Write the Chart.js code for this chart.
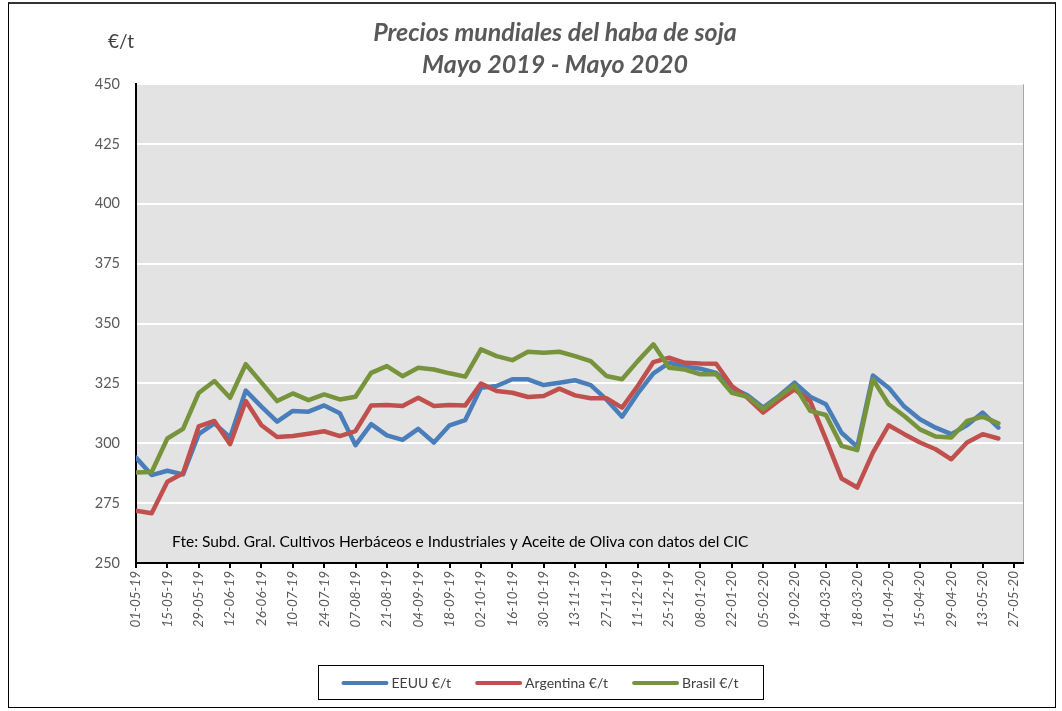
<!DOCTYPE html>
<html>
<head>
<meta charset="utf-8">
<script src="https://cdn.jsdelivr.net/npm/chart.js@4"></script>
<style>
body{margin:0;background:#fff;}
#marco{position:absolute;left:8px;top:2px;width:1046px;height:703px;border:1px solid #000;border-top:2px solid #333;}
#grafico{position:absolute;left:0;top:0;}
</style>
</head>
<body>
<div id="marco"></div>
<canvas id="grafico" width="1062" height="711"></canvas>
<script>
// semanas (miercoles) desde 01-05-19
var fechas = ["01-05-19","08-05-19","15-05-19","22-05-19","29-05-19","05-06-19","12-06-19","19-06-19","26-06-19",
  "03-07-19","10-07-19","17-07-19","24-07-19","31-07-19","07-08-19","14-08-19","21-08-19","28-08-19",
  "04-09-19","11-09-19","18-09-19","25-09-19","02-10-19","09-10-19","16-10-19","23-10-19","30-10-19",
  "06-11-19","13-11-19","20-11-19","27-11-19","04-12-19","11-12-19","18-12-19","25-12-19","01-01-20",
  "08-01-20","15-01-20","22-01-20","29-01-20","05-02-20","12-02-20","19-02-20","26-02-20","04-03-20",
  "11-03-20","18-03-20","25-03-20","01-04-20","08-04-20","15-04-20","22-04-20","29-04-20","06-05-20",
  "13-05-20","20-05-20","27-05-20"];

var eeuu = [294,286.7,288.5,287,303.8,308.3,302.4,322,315.3,309,313.5,313.2,315.8,312.5,299.2,308,303.3,301.4,
  306,300.3,307.5,309.7,323.2,323.9,326.7,326.7,324.3,325.3,326.3,324.3,318.3,311.1,320.8,329.2,333.6,332,
  331.1,329.4,323.2,320,314.9,319.7,325.3,319.4,316.3,304.4,298.5,328.3,323.2,315.3,310,306.5,303.8,307.5,
  312.8,306.5];
var argentina = [271.8,270.8,283.9,287.5,307,309.3,299.6,317.6,307.5,302.6,303,304,305,303,305.1,315.8,316,315.6,
  319,315.6,316,315.8,324.9,321.8,321.1,319.3,319.7,322.8,320,318.8,318.8,314.9,323.9,333.9,335.7,333.6,
  333.3,333.2,323.9,319,312.8,317.9,322.5,317.6,301.7,285.3,281.5,296.1,307.5,303.8,300.3,297.5,293.3,300.3,
  303.8,302];
var brasil = [287.8,288,302,306,321,326,319,333,325.3,317.6,320.8,318,320.4,318.3,319.4,329.4,332.2,328,
  331.5,330.8,329.2,327.8,339.2,336.4,334.7,338.2,337.8,338.2,336.4,334.3,328.1,326.7,334.3,341.3,331.5,330.8,
  328.8,328.8,321.1,319.4,314.2,319.3,324.2,313.5,311.8,298.9,297.1,326.7,316.3,311.4,305.8,302.8,302.4,309.3,
  311.1,308.3];

var yTicks = [250,275,300,325,350,375,400,425,450];
var titulo = ["Precios mundiales del haba de soja","Mayo 2019 - Mayo 2020"];
var nota = "Fte: Subd. Gral. Cultivos Herbáceos e Industriales y Aceite de Oliva con datos del CIC";

function puntos(serie){
  return serie.map(function(v,i){ return {x:i*7, y:v}; });
}

var fuente = "Lato, 'Liberation Sans', sans-serif";

var extras = {
  id:'extras',
  beforeDraw:function(chart){
    var a = chart.chartArea, ctx = chart.ctx;
    ctx.save();
    ctx.fillStyle = '#e3e3e3';
    ctx.fillRect(a.left, a.top, a.right-a.left, a.bottom-a.top);
    ctx.strokeStyle = '#a6a6a6';
    ctx.lineWidth = 1;
    ctx.beginPath();
    ctx.moveTo(a.left, a.top+0.5);
    ctx.lineTo(a.right+0.5, a.top+0.5);
    ctx.lineTo(a.right+0.5, a.bottom);
    ctx.stroke();
    ctx.restore();
  },
  afterDraw:function(chart){
    var ctx = chart.ctx;
    ctx.save();
    ctx.textAlign = 'center';
    ctx.textBaseline = 'middle';
    ctx.fillStyle = '#595959';
    ctx.font = 'italic bold 25px ' + fuente;
    ctx.fillText(titulo[0], 555, 33);
    ctx.fillText(titulo[1], 555, 65);
    ctx.font = '19px ' + fuente;
    ctx.fillStyle = '#404040';
    ctx.fillText('€/t', 121, 42);

    ctx.textAlign = 'left';
    ctx.fillStyle = '#000';
    ctx.font = '15.5px ' + fuente;
    ctx.fillText(nota, 172, 542);

    // leyenda
    ctx.font = '14px ' + fuente;
    var ds = chart.data.datasets;
    var largo = 43, sep = 5, entre = 26, total = 0;
    var anchos = ds.map(function(d){ return ctx.measureText(d.label).width; });
    anchos.forEach(function(w){ total += largo + sep + w; });
    total += entre*(ds.length-1);
    var cx = 541, y = 683;
    var x = cx - total/2;
    ctx.strokeStyle = '#000';
    ctx.lineWidth = 1;
    ctx.strokeRect(Math.round(x-25)+0.5, 665.5, Math.round(total+50), 34);
    ds.forEach(function(d,i){
      ctx.strokeStyle = d.borderColor;
      ctx.lineWidth = 4;
      ctx.lineCap = 'round';
      ctx.beginPath();
      ctx.moveTo(x, y);
      ctx.lineTo(x+largo, y);
      ctx.stroke();
      ctx.fillStyle = '#404040';
      ctx.fillText(d.label, x+largo+sep, y);
      x += largo + sep + anchos[i] + entre;
    });
    ctx.restore();
  }
};

new Chart(document.getElementById('grafico'), {
  type:'line',
  data:{
    datasets:[
      {label:'EEUU €/t', data:puntos(eeuu), borderColor:'#4a7ebb', backgroundColor:'#4a7ebb', order:3},
      {label:'Argentina €/t', data:puntos(argentina), borderColor:'#c0504d', backgroundColor:'#c0504d', order:2},
      {label:'Brasil €/t', data:puntos(brasil), borderColor:'#77933c', backgroundColor:'#77933c', order:1}
    ]
  },
  options:{
    responsive:false,
    animation:false,
    devicePixelRatio:1,
    layout:{padding:{left:90, right:39, top:84, bottom:68}},
    elements:{
      line:{borderWidth:4.5, tension:0, borderJoinStyle:'round', borderCapStyle:'round'},
      point:{radius:0, hoverRadius:0}
    },
    plugins:{legend:{display:false}, title:{display:false}, tooltip:{enabled:false}},
    scales:{
      x:{
        type:'linear', min:0, max:396,
        afterFit:function(s){ s.height = 80; },
        border:{display:true, color:'#000', width:2},
        grid:{display:true, drawOnChartArea:false, drawTicks:true, tickLength:5, color:'#000', lineWidth:2},
        ticks:{
          stepSize:14, includeBounds:false, autoSkip:false, minRotation:90, maxRotation:90, padding:3,
          color:'#595959', font:{family:fuente, size:13.5, style:'italic'},
          callback:function(v){ return fechas[v/7] || ''; }
        }
      },
      y:{
        min:250, max:450,
        afterFit:function(s){ s.width = 46; },
        afterBuildTicks:function(s){ s.ticks = yTicks.map(function(v){ return {value:v}; }); },
        border:{display:true, color:'#000', width:2},
        grid:{color:'#fff', lineWidth:2, drawTicks:false},
        ticks:{padding:16, color:'#595959', font:{family:fuente, size:14.5}}
      }
    }
  },
  plugins:[extras]
});
</script>
</body>
</html>
